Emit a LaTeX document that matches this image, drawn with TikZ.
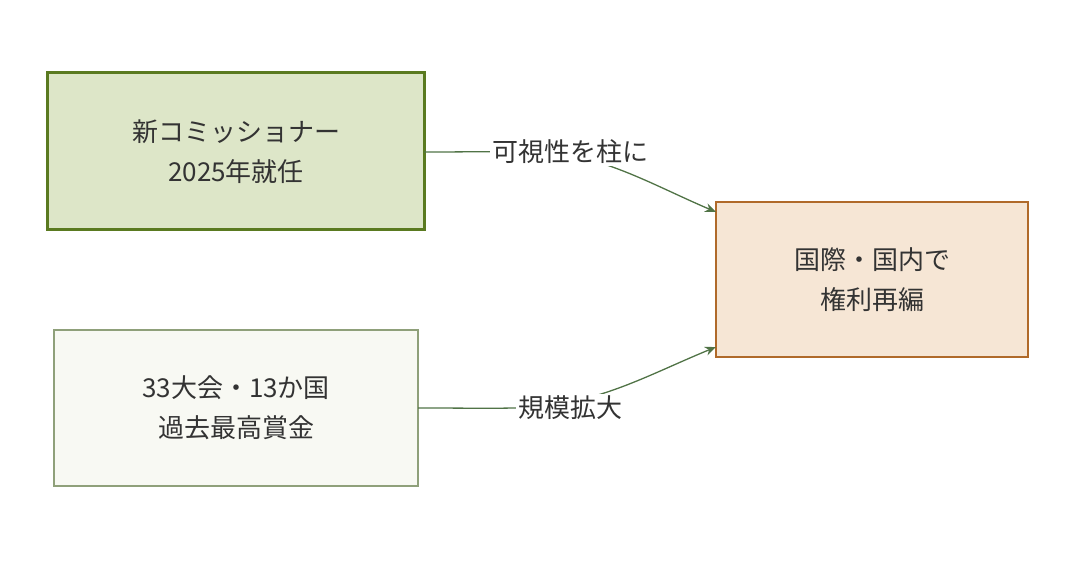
\documentclass[tikz,border=0pt]{standalone}
\usepackage{fontspec}
\setmainfont{Noto Sans CJK JP}
\usetikzlibrary{arrows.meta}
\definecolor{tx}{HTML}{333333}
\begin{document}
\begin{tikzpicture}[x=1pt,y=-1pt,
  box/.style={rectangle,align=center,text=tx,font=\fontsize{26}{40}\selectfont},
  lab/.style={fill=white,text=tx,inner sep=2pt,font=\fontsize{26}{30}\selectfont},
  edge/.style={draw=black!45!green!50!gray,color={rgb,255:red,80;green,115;blue,70},line width=1.3pt,-{Stealth[length=11pt,width=9pt]}}]
\useasboundingbox (0,0) rectangle (1076,564);
\draw[line width=3pt,draw={rgb,255:red,90;green,122;blue,32},fill={rgb,255:red,221;green,230;blue,200}] (47,73) rectangle (424,230);
\node[box] (A) at (236,152) {新コミッショナー\\2025年就任};
\coordinate (Ae) at (424,152);
\draw[line width=1.2pt,draw={rgb,255:red,143;green,160;blue,122},fill={rgb,255:red,248;green,249;blue,243}] (54,330) rectangle (418,486);
\node[box] (B) at (236,408) {33大会・13か国\\過去最高賞金};
\coordinate (Be) at (418,408);
\draw[line width=1.3pt,draw={rgb,255:red,176;green,106;blue,42},fill={rgb,255:red,246;green,230;blue,213}] (716,202) rectangle (1028,357);
\node[box] (C) at (872,280) {国際・国内で\\権利再編};
\coordinate (Ct) at (716,212);
\coordinate (Cb) at (716,347);
\draw[edge] (Ae) .. controls (500,152) and (540,150) .. (570,155) .. controls (620,165) and (660,188) .. (Ct);
\draw[edge] (Be) .. controls (500,408) and (540,410) .. (570,402) .. controls (620,392) and (660,370) .. (Cb);
\node[lab] (L1) at (570,152) {可視性を柱に};
\node[lab] (L2) at (570,408) {規模拡大};
\end{tikzpicture}
\end{document}
